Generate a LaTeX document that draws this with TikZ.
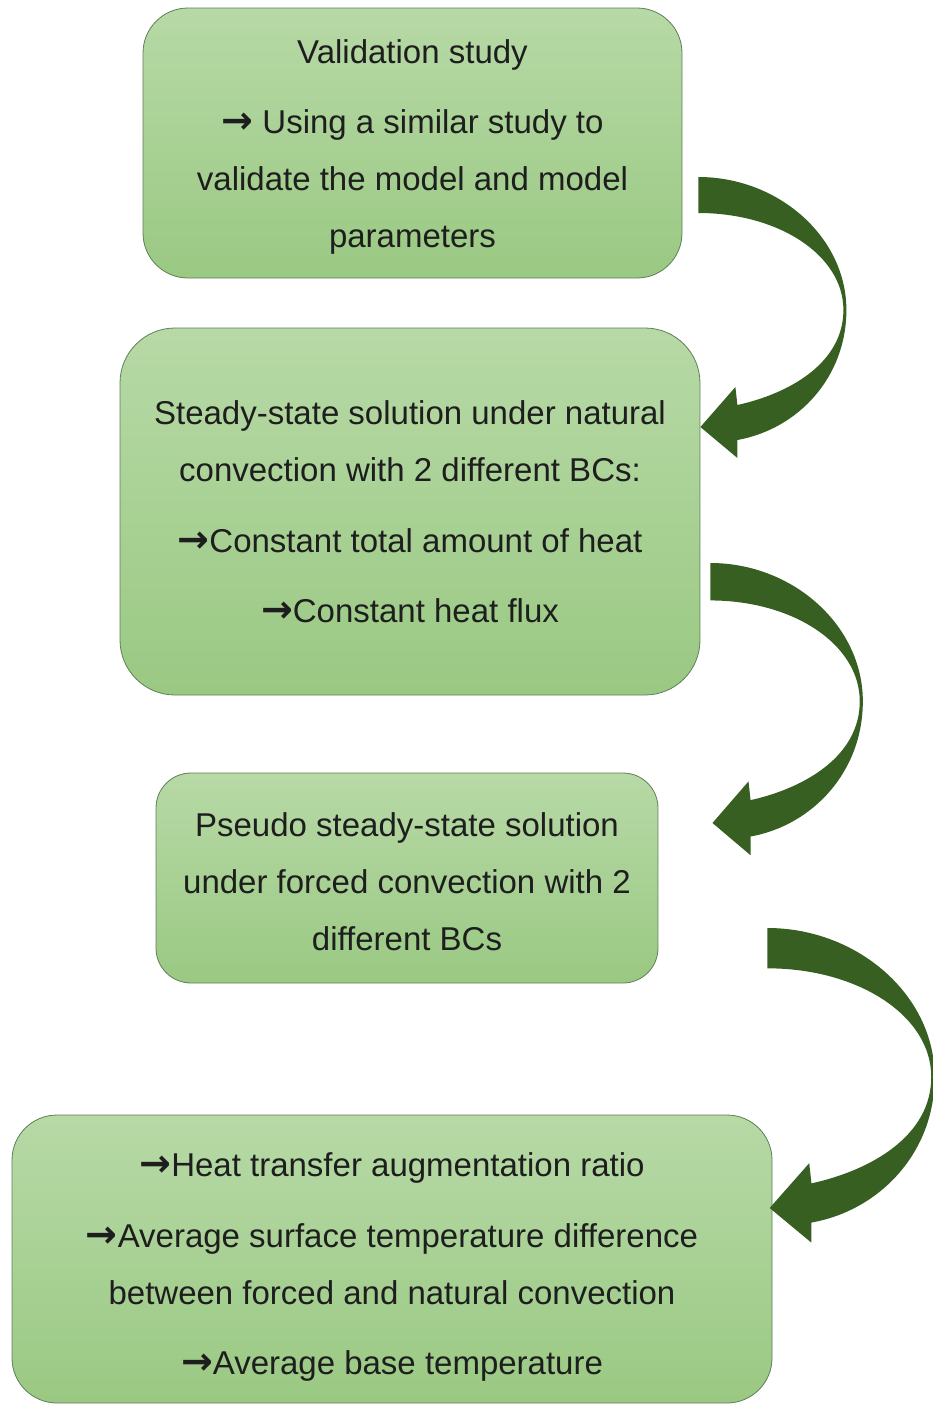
\documentclass[tikz,border=0pt]{standalone}
\usepackage{fontspec}
\setmainfont{Liberation Sans}
\newfontfamily\arrowfont{DejaVu Sans}
\usetikzlibrary{positioning,calc}
\definecolor{boxtop}{HTML}{B7D9A6}
\definecolor{boxbot}{HTML}{9AC983}
\definecolor{boxline}{HTML}{5E7F55}
\definecolor{arrowgreen}{HTML}{385F22}
\definecolor{textdark}{HTML}{1E1E1E}
\newcommand{\toarrow}{{\arrowfont\bfseries\fontsize{38}{57}\selectfont →}}
\newcommand{\droptext}[1]{\rule{0pt}{#1}}

\begin{document}
\begin{tikzpicture}[x=1pt,y=-1pt,
	stepbox/.style={rectangle, draw=boxline, line width=0.8pt, top color=boxtop, bottom color=boxbot,
		text=textdark, align=center, inner sep=0pt, font={\fontsize{33}{57}\selectfont}},
	bendarrow/.pic={
		\fill[arrowgreen] (0,0) .. controls (80,0) and (148,60) .. (148,133)
			.. controls (148,200) and (100,252) .. (39,263) -- (39,281) -- (2,250) -- (37,210) -- (39,228)
			.. controls (93,216) and (145,185) .. (145,133)
			.. controls (145,78) and (80,36) .. (0,36) -- cycle;
	}]
		\useasboundingbox (0,0) rectangle (933,1406);

		\node[stepbox, minimum width=539pt, minimum height=270pt, rounded corners=45pt] (val) at (412.5,143)
			{\droptext{32pt}Validation study\\[13pt]\toarrow\ Using a similar study to\\validate the model and model\\parameters};
		\node[stepbox, minimum width=580pt, minimum height=367pt, rounded corners=55pt] (ss) at (410,511.5)
			{Steady-state solution under natural\\convection with 2 different BCs:\\[14pt]\toarrow Constant total amount of heat\\[13pt]\toarrow Constant heat flux};
		\node[stepbox, minimum width=502pt, minimum height=210pt, rounded corners=35pt] (pss) at (407,878)
			{\droptext{32pt}Pseudo steady-state solution\\under forced convection with 2\\different BCs};
		\node[stepbox, minimum width=760pt, minimum height=288pt, rounded corners=45pt] (res) at (392,1259)
			{\droptext{40pt}\toarrow Heat transfer augmentation ratio\\[14pt]\toarrow Average surface temperature difference\\between forced and natural convection\\[13pt]\toarrow Average base temperature};

		\coordinate (a1) at ([shift={(16,34)}]val.east);
		\coordinate (a2) at ([shift={(10,51.5)}]ss.east);
		\coordinate (a3) at ([shift={(109,50)}]pss.east);

		\pic at (a1) {bendarrow};
		\pic[xscale=1.03, yscale=1.04] at (a2) {bendarrow};
		\pic[xscale=1.13, yscale=1.12] at (a3) {bendarrow};

	\end{tikzpicture}
\end{document}
